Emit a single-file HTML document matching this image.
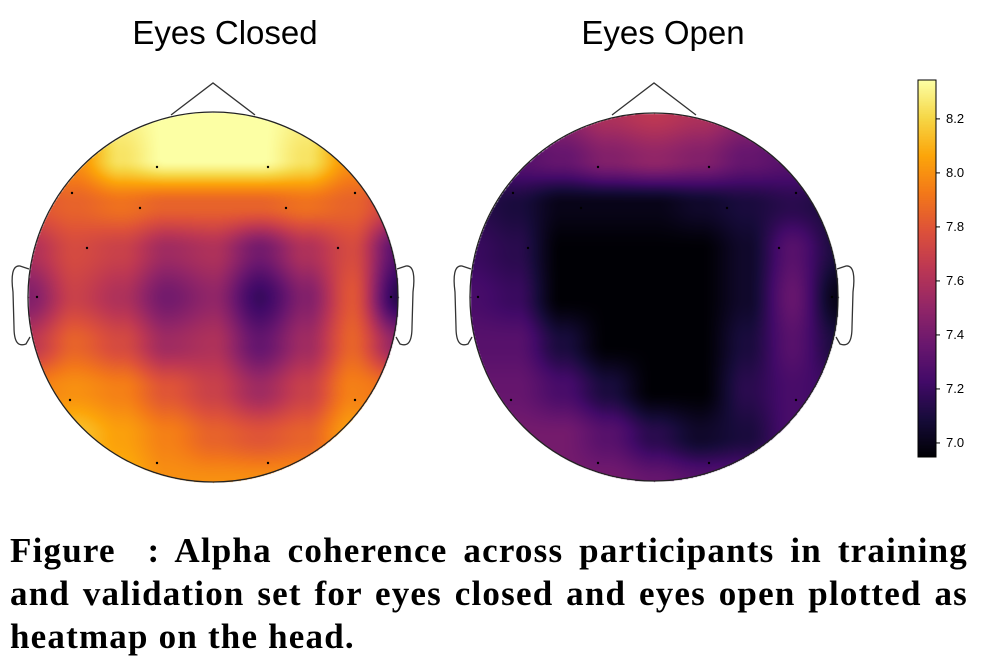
<!DOCTYPE html>
<html><head><meta charset="utf-8">
<style>
body{margin:0;background:#fff;width:996px;height:655px;overflow:hidden;position:relative;font-family:"Liberation Sans",sans-serif}
.title{position:absolute;top:14px;font-size:33px;color:#000;width:300px;text-align:center}
#cap{position:absolute;left:10px;top:529px;width:958px;font-family:"Liberation Serif",serif;font-weight:bold;font-size:35px;line-height:43px;letter-spacing:1.2px;color:#000}
#cap span{display:block;white-space:nowrap}
#cap span.j{text-align:justify;text-align-last:justify;white-space:normal}
canvas,svg{position:absolute;left:0;top:0}
.tick{position:absolute;left:946px;font-size:13px;color:#000}
</style></head><body>
<div class="title" style="left:75px">Eyes Closed</div>
<div class="title" style="left:513px">Eyes Open</div>
<canvas id="cv" width="996" height="655"></canvas>
<svg id="sv" width="996" height="655"></svg>
<div id="cbticks"></div>
<div id="cap"><span class="j">Figure &nbsp;: Alpha coherence across participants in training</span><span class="j">and validation set for eyes closed and eyes open plotted as</span><span>heatmap on the head.</span></div>
<script>
const vmin=6.948, vmax=8.344;
const tickLabels=["7.0","7.2","7.4","7.6","7.8","8.0","8.2"];
const tickValues=[7.0,7.2,7.4,7.6,7.8,8.0,8.2];
const closedGrid=[
[8.0,8.1,8.3,8.35,8.35,8.35,8.3,8.1,8.0],
[7.9,8.0,8.25,8.35,8.35,8.35,8.25,8.0,7.9],
[7.8,7.85,7.9,7.85,7.85,7.85,7.9,7.85,7.7],
[7.6,7.75,7.7,7.55,7.6,7.4,7.6,7.75,7.3],
[7.45,7.7,7.6,7.4,7.5,7.2,7.45,7.8,7.15],
[7.65,7.85,7.75,7.55,7.6,7.35,7.55,7.85,7.5],
[7.95,8.0,7.95,7.8,7.7,7.55,7.7,7.95,7.9],
[8.1,8.15,8.05,7.95,7.85,7.8,7.85,8.05,8.05],
[8.1,8.15,8.1,8.0,8.0,8.0,8.0,8.05,8.1]];
const openGrid=[
[7.35,7.4,7.5,7.6,7.65,7.6,7.5,7.4,7.35],
[7.25,7.3,7.35,7.45,7.5,7.45,7.35,7.3,7.25],
[7.15,7.1,7.0,7.0,7.0,7.05,7.1,7.15,7.1],
[7.2,7.15,6.95,6.95,6.95,6.95,7.05,7.3,7.1],
[7.25,7.2,6.95,6.95,6.95,6.95,7.05,7.35,7.0],
[7.3,7.3,7.1,6.95,6.95,6.95,7.1,7.3,7.1],
[7.35,7.35,7.25,7.1,6.95,6.95,7.15,7.25,7.2],
[7.4,7.4,7.4,7.3,7.15,7.05,7.1,7.25,7.3],
[7.4,7.4,7.4,7.4,7.35,7.3,7.3,7.3,7.35]];
const stops=[[0,0,4],[22,11,57],[66,10,104],[106,23,110],[147,38,103],[188,55,84],[221,81,58],[243,120,25],[252,165,10],[246,215,70],[252,255,164]];
function cmap(v){let t=(v-vmin)/(vmax-vmin);t=Math.max(0,Math.min(1,t))*10;const i=Math.min(9,Math.floor(t)),f=t-i;const a=stops[i],b=stops[i+1];return [0,1,2].map(k=>Math.round(a[k]+(b[k]-a[k])*f));}
const heads=[{cx:213,cy:297,r:185,grid:closedGrid},{cx:654,cy:297,r:184,grid:openGrid}];
const cv=document.getElementById('cv'),ctx=cv.getContext('2d');
const img=ctx.createImageData(996,655);
function sm(f){return f*f*(3-2*f);}
heads.forEach(h=>{const n=h.grid.length-1;
 for(let y=h.cy-h.r;y<=h.cy+h.r;y++)for(let x=h.cx-h.r;x<=h.cx+h.r;x++){
  const dx=x-h.cx,dy=y-h.cy;if(dx*dx+dy*dy>h.r*h.r)continue;
  const gx=(dx+h.r)/(2*h.r)*n,gy=(dy+h.r)/(2*h.r)*n;
  const i=Math.min(n-1,Math.floor(gx)),j=Math.min(n-1,Math.floor(gy));
  const fx=sm(gx-i),fy=sm(gy-j),g=h.grid;
  const v=(g[j][i]*(1-fx)+g[j][i+1]*fx)*(1-fy)+(g[j+1][i]*(1-fx)+g[j+1][i+1]*fx)*fy;
  const c=cmap(v),p=(y*996+x)*4;img.data[p]=c[0];img.data[p+1]=c[1];img.data[p+2]=c[2];img.data[p+3]=255;}
});
const cbTop=80,cbBot=457,cbX=918,cbW=18;
for(let y=cbTop;y<cbBot;y++){const v=vmax-(y-cbTop)/(cbBot-cbTop)*(vmax-vmin);const c=cmap(v);for(let x=cbX;x<cbX+cbW;x++){const p=(y*996+x)*4;img.data[p]=c[0];img.data[p+1]=c[1];img.data[p+2]=c[2];img.data[p+3]=255;}}
ctx.putImageData(img,0,0);
const sv=document.getElementById('sv');const NS='http://www.w3.org/2000/svg';
function add(tag,attrs,name){const e=document.createElementNS(NS,tag);for(const k in attrs)e.setAttribute(k,attrs[k]);


sv.appendChild(e);return e;}
const dots=[[-56,-130],[55,-130],[-141,-104],[-73,-89],[73,-89],[142,-104],[-126,-49],[125,-49],[-176,0],[178,0],[-143,103],[142,103],[-56,166],[55,166]];
heads.forEach((h,k)=>{
 add('circle',{cx:h.cx,cy:h.cy,r:h.r,fill:'none',stroke:'#222','stroke-width':1.3},'head-outline');
 add('polyline',{points:`${h.cx-42},${h.cy-182} ${h.cx},${h.cy-214} ${h.cx+42},${h.cy-182}`,fill:'none',stroke:'#333','stroke-width':1.3},'nose');
 const L=h.cx-h.r,R=h.cx+h.r;
 add('path',{d:`M${L+1},${h.cy-28} L${L-8},${h.cy-31} C${L-16},${h.cy-32} ${L-17},${h.cy-20} ${L-15},${h.cy-5} L${L-14},${h.cy+30} C${L-14},${h.cy+45} ${L-10},${h.cy+50} ${L-2},${h.cy+47} L${L+2},${h.cy+40}`,fill:'none',stroke:'#333','stroke-width':1.3},'left-ear');
 add('path',{d:`M${R-1},${h.cy-28} L${R+8},${h.cy-31} C${R+16},${h.cy-32} ${R+17},${h.cy-20} ${R+15},${h.cy-5} L${R+14},${h.cy+30} C${R+14},${h.cy+45} ${R+10},${h.cy+50} ${R+2},${h.cy+47} L${R-2},${h.cy+40}`,fill:'none',stroke:'#333','stroke-width':1.3},'right-ear');
 dots.forEach(d=>add('circle',{cx:h.cx+d[0],cy:h.cy+d[1],r:1.2,fill:'#000'},'electrode'));
});
add('rect',{x:cbX,y:cbTop,width:cbW,height:cbBot-cbTop,fill:'none',stroke:'#000','stroke-width':1},'colorbar-frame');
const tk=document.getElementById('cbticks');
tickValues.forEach((v,i)=>{const y=cbTop+(vmax-v)/(vmax-vmin)*(cbBot-cbTop);
 add('line',{x1:cbX+cbW,x2:cbX+cbW+4,y1:y,y2:y,stroke:'#000','stroke-width':1},'colorbar-tick');
 const d=document.createElement('div');d.className='tick';d.style.top=(y-8)+'px';d.textContent=tickLabels[i];
 
 
 tk.appendChild(d);});
</script>
</body></html>
